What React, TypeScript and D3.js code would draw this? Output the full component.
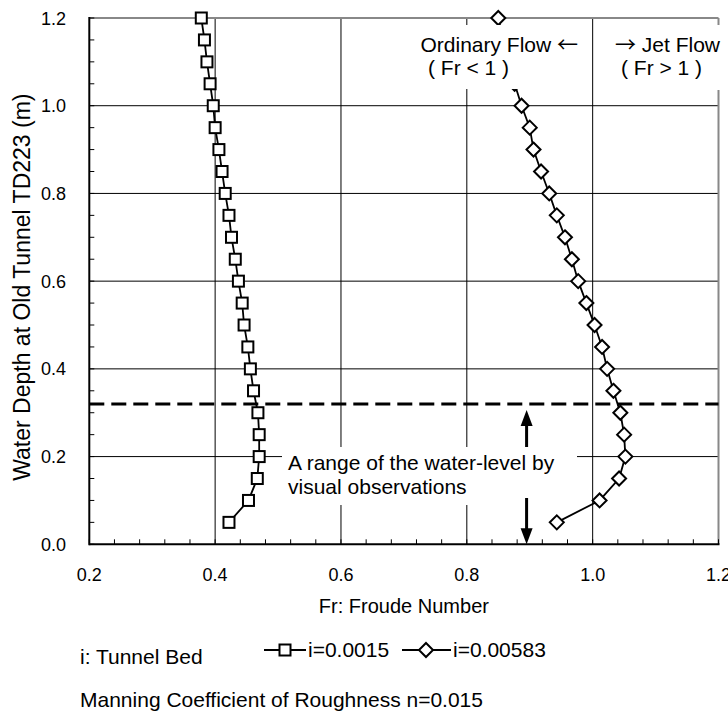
import React from 'react';
import * as d3 from 'd3';

const depths = [1.2, 1.15, 1.1, 1.05, 1.0, 0.95, 0.9, 0.85, 0.8, 0.75, 0.7, 0.65, 0.6, 0.55, 0.5, 0.45, 0.4, 0.35, 0.3, 0.25, 0.2, 0.15, 0.1, 0.05];
const frSquare = [0.378, 0.383, 0.387, 0.392, 0.397, 0.4, 0.406, 0.411, 0.416, 0.422, 0.426, 0.432, 0.437, 0.443, 0.446, 0.452, 0.456, 0.461, 0.468, 0.47, 0.47, 0.467, 0.453, 0.422];
const frDiamond = [0.85, 0.858, 0.866, 0.876, 0.887, 0.9, 0.906, 0.918, 0.931, 0.943, 0.956, 0.967, 0.977, 0.99, 1.003, 1.015, 1.023, 1.033, 1.044, 1.05, 1.052, 1.042, 1.011, 0.943];
const xTicks = [0.2, 0.4, 0.6, 0.8, 1.0, 1.2];
const yTicks = [0.0, 0.2, 0.4, 0.6, 0.8, 1.0, 1.2];
const seriesNames = ['i=0.0015', 'i=0.00583'];
const observedTop = 0.32;
const arrowFr = 0.895;

const FONT = "'Liberation Sans', Arial, 'Noto Sans CJK JP', sans-serif";
const CJK = "'Noto Sans CJK JP', sans-serif";

export default function App() {
  const W = 728, H = 720;
  const x = d3.scaleLinear().domain([0.2, 1.2]).range([89.3, 718.5]);
  const y = d3.scaleLinear().domain([0, 1.2]).range([544.3, 18]);
  const [x0, x1] = x.range();
  const [yb, yt] = y.range();

  const line = d3.line<[number, number]>().x(d => x(d[0])).y(d => y(d[1]));
  const sqPts: [number, number][] = depths.map((d, i) => [frSquare[i], d]);
  const diPts: [number, number][] = depths.map((d, i) => [frDiamond[i], d]);

  const xMinor = d3.range(0, 26).map(i => 0.2 + i * 0.04);
  const yMinor = d3.range(0, 25).map(i => i * 0.05);

  const sq = (cx: number, cy: number, k: string) => (
    <rect key={k} x={cx - 5.5} y={cy - 5.5} width={11} height={11} fill="#fff" stroke="#000" strokeWidth={2} />
  );
  const dia = (cx: number, cy: number, k: string) => (
    <path key={k} d={`M${cx},${cy - 7}L${cx + 7},${cy}L${cx},${cy + 7}L${cx - 7},${cy}Z`} fill="#fff" stroke="#000" strokeWidth={2} />
  );

  const ax = x(arrowFr);
  const yDash = y(observedTop);

  return (
    <svg width={W} height={H} style={{ position: 'absolute', left: 0, top: 0, background: '#fff' }} fontFamily={FONT}>
      <rect x={0} y={0} width={W} height={H} fill="#fff" />
      {/* grid */}
      {yTicks.filter(t => t > 0 && t < 1.2).map(t => (
        <line key={'gy' + t} x1={x0} x2={x1} y1={y(t)} y2={y(t)} stroke="#000" strokeWidth={1} />
      ))}
      {xTicks.filter(t => t > 0.2 && t < 1.2).map(t => (
        <line key={'gx' + t} x1={x(t)} x2={x(t)} y1={yt} y2={yb} stroke="#000" strokeWidth={1} />
      ))}
      {/* frame top/right */}
      <line x1={x0} x2={x1} y1={yt} y2={yt} stroke="#888" strokeWidth={2} />
      <line x1={x1} x2={x1} y1={yt} y2={yb} stroke="#888" strokeWidth={2} />
      {/* dashed observation line */}
      <line x1={x0} x2={x1} y1={yDash} y2={yDash} stroke="#000" strokeWidth={3} strokeDasharray="15,7" />
      {/* series */}
      <path d={line(sqPts) || ''} fill="none" stroke="#000" strokeWidth={1.8} />
      <path d={line(diPts) || ''} fill="none" stroke="#000" strokeWidth={1.8} />
      {sqPts.map((p, i) => sq(x(p[0]), y(p[1]), 's' + i))}
      {diPts.map((p, i) => dia(x(p[0]), y(p[1]), 'd' + i))}
      {/* annotation boxes */}
      <rect x={410} y={25} width={181} height={64} fill="#fff" />
      <text x={578} y={52} fontSize={21} textAnchor="end" fill="#000">Ordinary Flow <tspan fontFamily={CJK}>←</tspan></text>
      <text x={428} y={75} fontSize={21} fill="#000">( Fr &lt; 1 )</text>
      <rect x={597} y={25} width={131} height={65} fill="#fff" />
      <text x={615} y={52} fontSize={21} fill="#000"><tspan fontFamily={CJK}>→</tspan> Jet Flow</text>
      <text x={621} y={75} fontSize={21} fill="#000">( Fr &gt; 1 )</text>
      <rect x={282} y={447} width={295} height={58} fill="#fff" />
      <text x={288} y={470} fontSize={21} fill="#000">A range of the water-level by</text>
      <text x={288} y={494} fontSize={21} fill="#000">visual observations</text>
      {/* arrows */}
      <line x1={ax} x2={ax} y1={447} y2={422} stroke="#000" strokeWidth={3} />
      <path d={`M${ax},${yDash + 6}L${ax + 6},${yDash + 22}L${ax - 6},${yDash + 22}Z`} fill="#000" />
      <line x1={ax} x2={ax} y1={498} y2={530} stroke="#000" strokeWidth={3} />
      <path d={`M${ax},${yb}L${ax + 6},${yb - 16}L${ax - 6},${yb - 16}Z`} fill="#000" />
      {/* axes */}
      {xMinor.map((t, i) => (
        <line key={'xm' + i} x1={x(t)} x2={x(t)} y1={yb} y2={yb - 5} stroke="#000" strokeWidth={1} />
      ))}
      {yMinor.map((t, i) => (
        <line key={'ym' + i} x1={x0} x2={x0 + 5} y1={y(t)} y2={y(t)} stroke="#000" strokeWidth={1} />
      ))}
      <line x1={x0} x2={x1 + 1} y1={yb} y2={yb} stroke="#000" strokeWidth={2} />
      <line x1={x0} x2={x0} y1={yt - 1} y2={yb + 1} stroke="#000" strokeWidth={2} />
      {xTicks.map(t => (
        <text key={'xl' + t} x={x(t)} y={yb + 37} fontSize={18} textAnchor="middle" fill="#000">{t.toFixed(1)}</text>
      ))}
      {yTicks.map(t => (
        <text key={'yl' + t} x={66} y={y(t) + 6.5} fontSize={18} textAnchor="end" fill="#000">{t.toFixed(1)}</text>
      ))}
      <text x={(x0 + x1) / 2} y={613} fontSize={20} textAnchor="middle" fill="#000">Fr: Froude Number</text>
      <text transform={`translate(30,${(yt + yb) / 2 + 6}) rotate(-90)`} fontSize={23} textAnchor="middle" fill="#000">Water Depth at Old Tunnel TD223 (m)</text>
      {/* legend */}
      <text x={80} y={664} fontSize={21} fill="#000">i: Tunnel Bed</text>
      <line x1={264} x2={306} y1={650} y2={650} stroke="#000" strokeWidth={2} />
      {sq(285, 650, 'lg1')}
      <text x={308} y={657} fontSize={21} fill="#000">{seriesNames[0]}</text>
      <line x1={402} x2={451} y1={650} y2={650} stroke="#000" strokeWidth={2} />
      {dia(426, 650, 'lg2')}
      <text x={453} y={657} fontSize={21} fill="#000">{seriesNames[1]}</text>
      <text x={80} y={707} fontSize={21} fill="#000">Manning Coefficient of Roughness n=0.015</text>
    </svg>
  );
}
